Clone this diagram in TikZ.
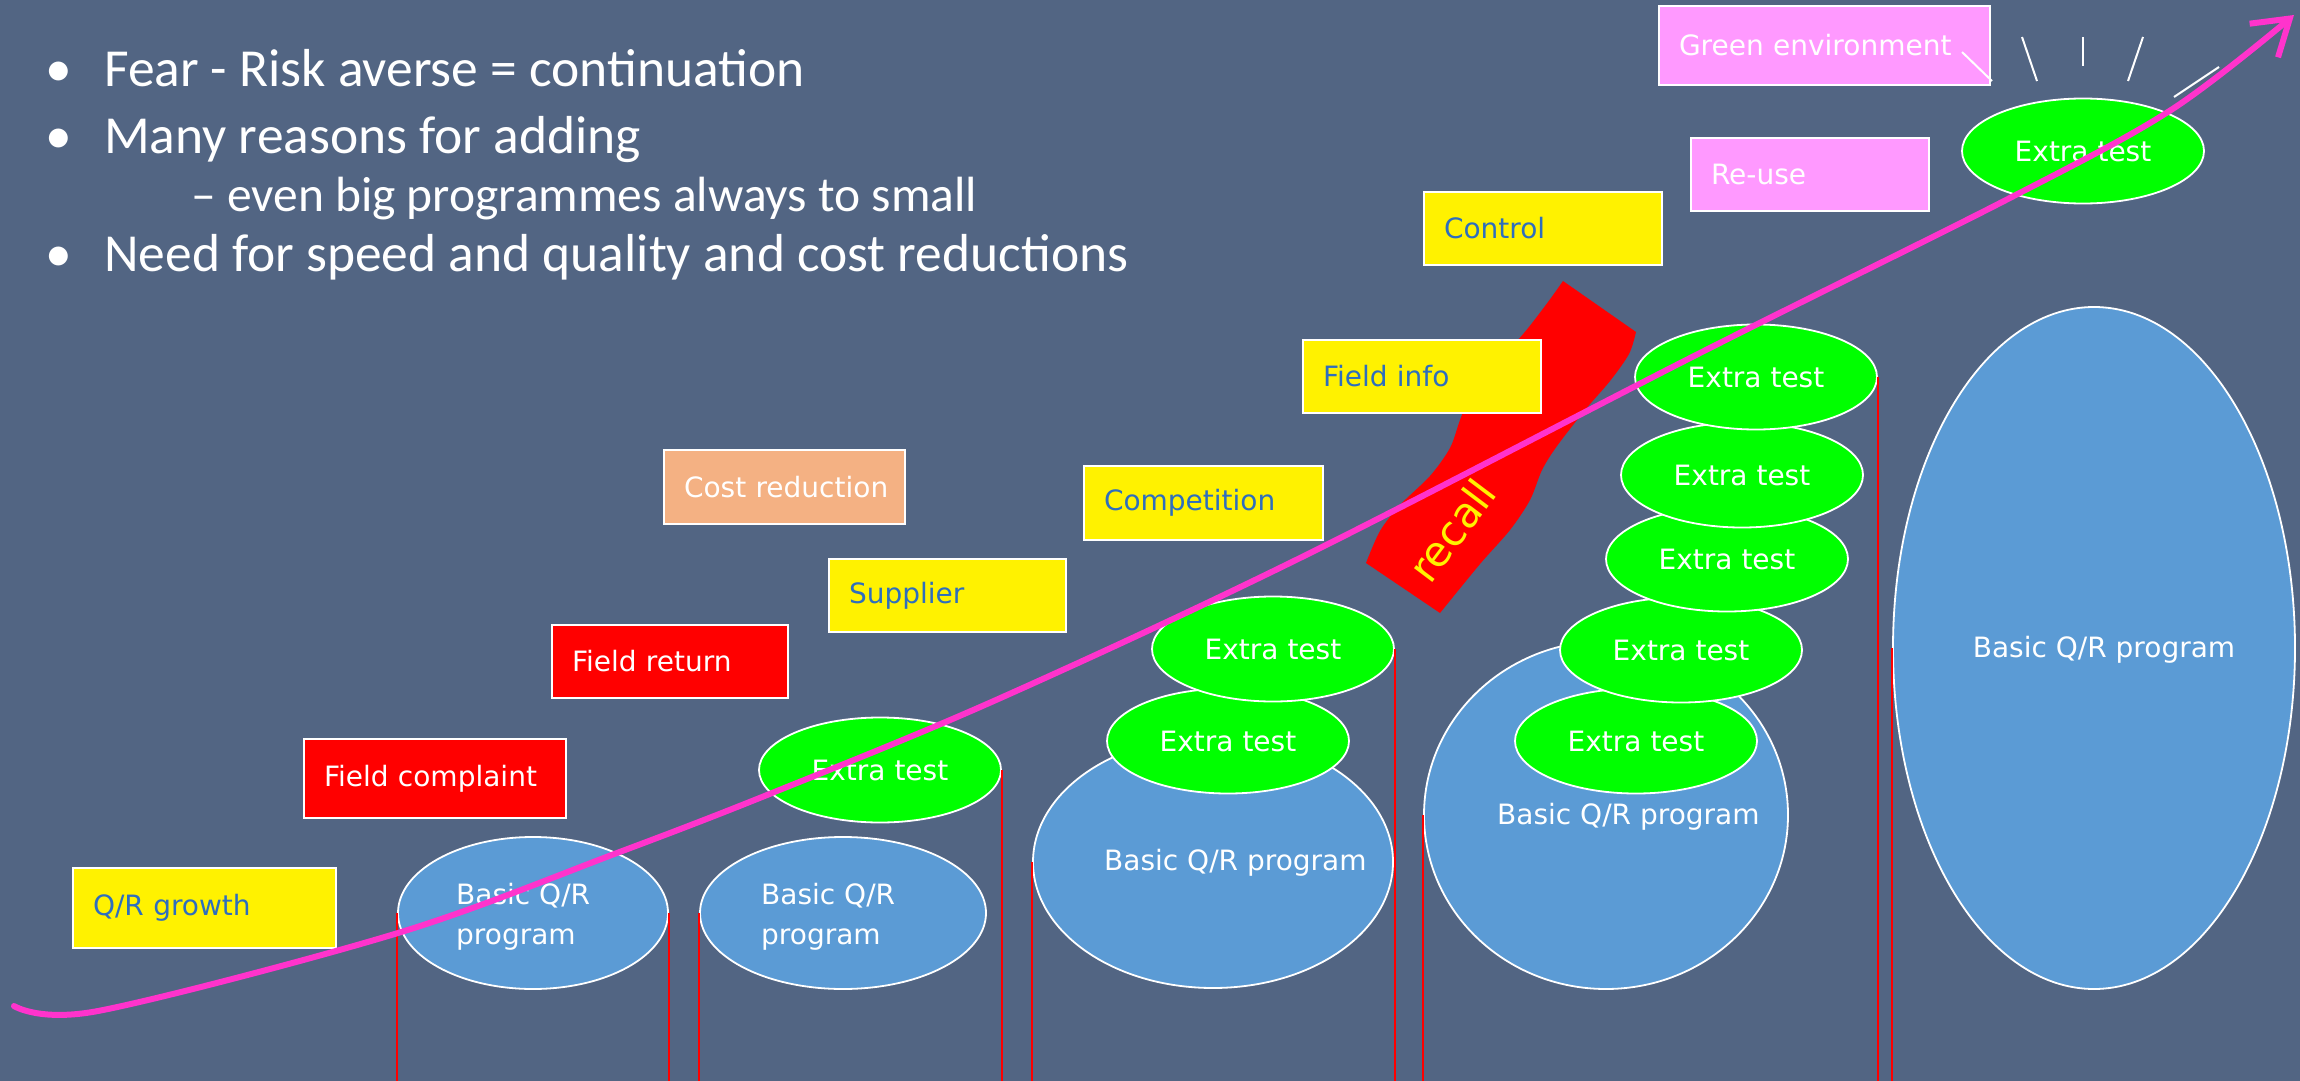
\documentclass[tikz,border=0pt]{standalone}
\usepackage{fontspec}
\setmainfont{DejaVu Sans}
\newfontfamily\slidefont{Carlito}
\usetikzlibrary{shapes.geometric,arrows.meta}

\definecolor{slide}{RGB}{82,101,131}
\definecolor{qrblue}{RGB}{91,155,213}
\definecolor{labelblue}{RGB}{46,110,190}
\definecolor{salmon}{RGB}{244,177,131}
\definecolor{orchid}{RGB}{255,153,255}
\definecolor{trend}{RGB}{255,51,204}

\begin{document}
\begin{tikzpicture}[x=1pt,y=-1pt,
  tag/.style={draw=white, line width=2pt, inner xsep=20pt, inner ysep=0pt,
    minimum height=73pt, minimum width=238pt, text width=198pt, align=left,
    font=\fontsize{28}{34}\selectfont},
  alarm/.style={tag, fill=red, text=white},
  driver/.style={tag, fill=yellow, text=labelblue},
  saving/.style={tag, fill=salmon, text=white},
  future/.style={tag, fill=orchid, text=white},
  plan/.style={ellipse, draw=white, line width=1.8pt, fill=qrblue, inner sep=0pt},
  plantext/.style={text=white, inner sep=0pt, align=left,
    font=\fontsize{28}{40}\selectfont},
  extra/.style={ellipse, draw=white, line width=1.8pt, fill=green, text=white,
    inner sep=0pt, minimum width=242pt, minimum height=105pt,
    font=\fontsize{28}{34}\selectfont},
  riser/.style={red, line width=2pt},
  ray/.style={white, line width=2pt},
  bulletline/.style={text=white, inner sep=0pt, anchor=base west,
    font=\slidefont\fontsize{53.5}{60}\selectfont},
  subline/.style={text=white, inner sep=0pt, anchor=base west,
    font=\slidefont\fontsize{49.5}{54}\selectfont}]

% slide background
\fill[slide] (0,0) rectangle (2300,1081);
\useasboundingbox (0,0) rectangle (2300,1081);
\coordinate (floor) at (0,1081);

% programme stacks: blue base programmes and green extra tests
\node[plan, minimum width=270pt, minimum height=152pt] (b1) at (533,913) {};
\node[plan, minimum width=286pt, minimum height=152pt] (b2) at (843,913) {};
\node[extra] (g2) at (880,770) {Extra test};

\node[plan, minimum width=360pt, minimum height=252pt] (b3) at (1213,862) {};
\node[extra] (g3a) at (1228,741) {Extra test};
\node[extra] (g3b) at (1273,649) {Extra test};

\node[plan, minimum width=364pt, minimum height=348pt] (b4) at (1606,815) {};
\node[extra] (g4a) at (1636,741) {Extra test};
\node[extra] (g4b) at (1681,650) {Extra test};
\node[extra] (g4c) at (1727,559) {Extra test};
\node[extra] (g4d) at (1742,475) {Extra test};
\node[extra] (g4e) at (1756,377) {Extra test};

\node[plan, minimum width=402pt, minimum height=682pt] (b5) at (2094,648) {};
\node[extra] (g6) at (2083,151) {Extra test};

% column edges down to the floor
\draw[riser] (b1.west) -- (b1.west |- floor);
\draw[riser] (b1.east) -- (b1.east |- floor);
\draw[riser] (b2.west) -- (b2.west |- floor);
\draw[riser] (g2.east) -- (g2.east |- floor);
\draw[riser] (b3.west) -- (b3.west |- floor);
\draw[riser] (g3b.east) -- (g3b.east |- floor);
\draw[riser] (b4.west) -- (b4.west |- floor);
\draw[riser] (g4e.east) -- (g4e.east |- floor);
\draw[riser] (b5.west) -- (b5.west |- floor);

% programme labels
\node[plantext, anchor=west] (b1t) at (456,917) {Basic Q/R\\program};
\node[plantext, anchor=west] (b2t) at (761,917) {Basic Q/R\\program};
\node[plantext, anchor=west] (b3t) at (1104,863) {Basic Q/R program};
\node[plantext, anchor=west] (b4t) at (1497,817) {Basic Q/R program};
\node[plantext] (b5t) at (2104,650) {Basic Q/R program};

% recall banner
\fill[red] plot[smooth] coordinates {(1563,281) (1548,302) (1524,333) (1492,368)
    (1470,397) (1460,420) (1450,448) (1430,476) (1400,505) (1380,531) (1366,563)}
  -- plot[smooth] coordinates {(1440,613) (1480,564) (1510,530) (1530,500)
    (1542,470) (1557,446) (1585,410) (1610,381) (1629,354) (1636,332)}
  -- cycle;
\node[text=yellow, rotate=53, inner sep=0pt, font=\fontsize{42}{42}\selectfont]
  (recall) at (1452,530) {recall};

% reasons for adding tests
\node[driver, minimum width=263pt, text width=223pt, minimum height=80pt] (growth) at (204.5,908) {Q/R growth};
\node[alarm, minimum width=262pt, text width=222pt, minimum height=79pt] (complaint) at (435,778.5) {Field complaint};
\node[alarm, minimum width=236pt, text width=196pt] (return) at (670,661.5) {Field return};
\node[driver, minimum width=237pt, text width=197pt] (supplier) at (947.5,595.5) {Supplier};
\node[saving, minimum width=241pt, text width=201pt, minimum height=74pt] (cost) at (784.5,487) {\mbox{Cost reduction}};
\node[driver, minimum width=239pt, text width=199pt, minimum height=74pt] (competition) at (1203.5,503) {Competition};
\node[driver] (fieldinfo) at (1422,376.5) {Field info};
\node[driver] (control) at (1543,228.5) {Control};
\node[future] (reuse) at (1810,174.5) {Re-use};
\node[future, minimum width=331pt, text width=291pt, minimum height=79pt] (greenenv) at (1824.5,45.5) {Green environment};

% sparkle above the newest extra test
\draw[ray] (1962,52) -- (1992,81);
\draw[ray] (2022,37) -- (2037,81);
\draw[ray] (2083,37) -- (2083,66);
\draw[ray] (2143,37) -- (2128,81);
\draw[ray] (2219,67) -- (2174,97);

% growth trend
\coordinate (t0) at (14,1006);
\coordinate (t1) at (98,1011);
\coordinate (t2) at (398,933);
\coordinate (t3) at (617,853);
\coordinate (t4) at (772,793);
\coordinate (t5) at (996,700);
\coordinate (t6) at (1300,558);
\coordinate (t7) at (1700,353);
\coordinate (t8) at (2006,200);
\coordinate (t9) at (2171,110);
\coordinate (t10) at (2294,15);
\draw[trend, line width=6pt, line cap=round,
  -{Straight Barb[length=34pt,width=44pt]}]
  plot[smooth, tension=0.55] coordinates {(t0) (t1) (t2) (t3) (t4) (t5) (t6) (t7) (t8) (t9) (t10)};

% bullet points
\node[bulletline] (p1) at (45,87) {\makebox[59pt][l]{\textbullet}Fear - Risk averse = continuation};
\node[bulletline] (p2) at (45,153) {\makebox[59pt][l]{\textbullet}Many reasons for adding};
\node[subline] (p3) at (191,211) {– even big programmes always to small};
\node[bulletline] (p4) at (45,271) {\makebox[59pt][l]{\textbullet}Need for speed and quality and cost reductions};
\end{tikzpicture}
\end{document}
